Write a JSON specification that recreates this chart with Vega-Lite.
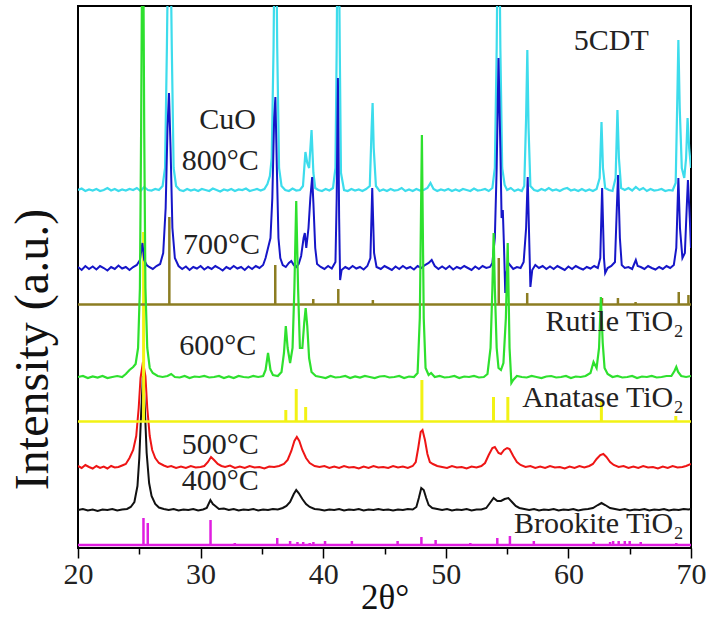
{
"$schema": "https://vega.github.io/schema/vega-lite/v6.json",
"width": 613, "height": 542,
"autosize": {"type": "none"},
"padding": {"left": 78, "top": 6, "right": 19, "bottom": 70},
"config": {"view": {"stroke": "#000", "strokeWidth": 2}},
"datasets": {
"bases": [{"p":"brookite","x":20,"y":3},{"p":"brookite","x":70,"y":3},{"p":"anatase","x":20,"y":126.5},{"p":"anatase","x":70,"y":126.5},{"p":"rutile","x":20,"y":243.5},{"p":"rutile","x":70,"y":243.5}],
"sticks": [
{"p":"brookite","x":25.34,"b":3,"y":30},{"p":"brookite","x":25.69,"b":3,"y":25},{"p":"brookite","x":30.81,"b":3,"y":28},{"p":"brookite","x":32.79,"b":3,"y":5},{"p":"brookite","x":36.25,"b":3,"y":10},{"p":"brookite","x":37.3,"b":3,"y":7},{"p":"brookite","x":37.9,"b":3,"y":6},{"p":"brookite","x":38.37,"b":3,"y":6},{"p":"brookite","x":38.9,"b":3,"y":5},{"p":"brookite","x":39.2,"b":3,"y":6},{"p":"brookite","x":40.15,"b":3,"y":7},{"p":"brookite","x":42.34,"b":3,"y":7},{"p":"brookite","x":46.07,"b":3,"y":7},{"p":"brookite","x":48.01,"b":3,"y":11},{"p":"brookite","x":49.17,"b":3,"y":8},{"p":"brookite","x":52.0,"b":3,"y":5},{"p":"brookite","x":54.2,"b":3,"y":10},{"p":"brookite","x":55.23,"b":3,"y":12},{"p":"brookite","x":57.18,"b":3,"y":7},{"p":"brookite","x":59.98,"b":3,"y":4},{"p":"brookite","x":62.06,"b":3,"y":6},{"p":"brookite","x":63.4,"b":3,"y":6},{"p":"brookite","x":63.65,"b":3,"y":7},{"p":"brookite","x":64.1,"b":3,"y":7},{"p":"brookite","x":64.6,"b":3,"y":7},{"p":"brookite","x":65.0,"b":3,"y":7},{"p":"brookite","x":65.9,"b":3,"y":6},{"p":"brookite","x":68.8,"b":3,"y":5},
{"p":"anatase","x":25.35,"b":126.5,"y":316},{"p":"anatase","x":36.95,"b":126.5,"y":138},{"p":"anatase","x":37.8,"b":126.5,"y":159},{"p":"anatase","x":38.57,"b":126.5,"y":141},{"p":"anatase","x":48.05,"b":126.5,"y":168},{"p":"anatase","x":53.89,"b":126.5,"y":151},{"p":"anatase","x":55.06,"b":126.5,"y":151},{"p":"anatase","x":62.69,"b":126.5,"y":148},{"p":"anatase","x":68.76,"b":126.5,"y":132},
{"p":"rutile","x":27.45,"b":243.5,"y":331},{"p":"rutile","x":36.09,"b":243.5,"y":283},{"p":"rutile","x":39.19,"b":243.5,"y":249},{"p":"rutile","x":41.23,"b":243.5,"y":259},{"p":"rutile","x":44.05,"b":243.5,"y":248},{"p":"rutile","x":54.32,"b":243.5,"y":290},{"p":"rutile","x":56.64,"b":243.5,"y":255},{"p":"rutile","x":62.74,"b":243.5,"y":250},{"p":"rutile","x":64.04,"b":243.5,"y":250},{"p":"rutile","x":65.48,"b":243.5,"y":246},{"p":"rutile","x":69.0,"b":243.5,"y":256},{"p":"rutile","x":69.79,"b":243.5,"y":253}
],
"c400": [{"x":20.0,"y":38},{"x":20.4,"y":39},{"x":20.8,"y":37.5},{"x":21.2,"y":38.5},{"x":21.6,"y":37},{"x":22.0,"y":38.5},{"x":22.4,"y":38},{"x":22.8,"y":39},{"x":23.2,"y":37.5},{"x":23.6,"y":38.5},{"x":24.0,"y":39},{"x":24.3,"y":41},{"x":24.6,"y":46},{"x":24.85,"y":62},{"x":25.0,"y":90},{"x":25.15,"y":135},{"x":25.3,"y":172},{"x":25.45,"y":140},{"x":25.6,"y":95},{"x":25.8,"y":65},{"x":26.0,"y":52},{"x":26.3,"y":44},{"x":26.6,"y":40.5},{"x":27.0,"y":39},{"x":27.4,"y":38},{"x":27.8,"y":39},{"x":28.2,"y":37.5},{"x":28.6,"y":38.5},{"x":29.0,"y":38},{"x":29.4,"y":39},{"x":29.8,"y":37.5},{"x":30.2,"y":38.5},{"x":30.5,"y":40},{"x":30.8,"y":48},{"x":31.0,"y":44},{"x":31.2,"y":42},{"x":31.5,"y":39},{"x":31.9,"y":39.5},{"x":32.3,"y":38},{"x":32.7,"y":39},{"x":33.1,"y":37.5},{"x":33.5,"y":38.5},{"x":33.9,"y":38},{"x":34.3,"y":39},{"x":34.7,"y":37.5},{"x":35.1,"y":38.5},{"x":35.5,"y":38},{"x":35.9,"y":39},{"x":36.3,"y":38.5},{"x":36.7,"y":40},{"x":37.0,"y":42},{"x":37.3,"y":46},{"x":37.6,"y":54},{"x":37.8,"y":58},{"x":38.0,"y":55},{"x":38.3,"y":49},{"x":38.6,"y":44},{"x":38.9,"y":41},{"x":39.3,"y":39},{"x":39.7,"y":38.5},{"x":40.1,"y":37.5},{"x":40.5,"y":38.5},{"x":40.9,"y":38},{"x":41.3,"y":39},{"x":41.7,"y":37.5},{"x":42.1,"y":38.5},{"x":42.5,"y":38},{"x":42.9,"y":39},{"x":43.3,"y":37.5},{"x":43.7,"y":38.5},{"x":44.1,"y":38},{"x":44.5,"y":39},{"x":44.9,"y":38},{"x":45.3,"y":38.5},{"x":45.7,"y":37.5},{"x":46.1,"y":38.5},{"x":46.5,"y":38},{"x":46.9,"y":39},{"x":47.3,"y":38.5},{"x":47.6,"y":41},{"x":47.8,"y":50},{"x":48.0,"y":60},{"x":48.2,"y":58},{"x":48.4,"y":50},{"x":48.6,"y":43},{"x":48.9,"y":40},{"x":49.3,"y":39},{"x":49.7,"y":38},{"x":50.1,"y":39},{"x":50.5,"y":37.5},{"x":50.9,"y":38.5},{"x":51.3,"y":38},{"x":51.7,"y":39},{"x":52.1,"y":37.5},{"x":52.5,"y":38.5},{"x":52.9,"y":38.5},{"x":53.3,"y":40},{"x":53.6,"y":45},{"x":53.9,"y":50},{"x":54.2,"y":47},{"x":54.5,"y":47},{"x":54.8,"y":49},{"x":55.1,"y":50},{"x":55.4,"y":46},{"x":55.7,"y":42},{"x":56.0,"y":40},{"x":56.4,"y":39},{"x":56.8,"y":38},{"x":57.2,"y":39},{"x":57.6,"y":37.5},{"x":58.0,"y":38.5},{"x":58.4,"y":38},{"x":58.8,"y":39},{"x":59.2,"y":37.5},{"x":59.6,"y":38.5},{"x":60.0,"y":38},{"x":60.4,"y":39},{"x":60.8,"y":37.5},{"x":61.2,"y":38.5},{"x":61.6,"y":39},{"x":62.0,"y":40},{"x":62.4,"y":43},{"x":62.7,"y":45},{"x":63.0,"y":43},{"x":63.4,"y":40},{"x":63.8,"y":39},{"x":64.2,"y":38},{"x":64.6,"y":39},{"x":65.0,"y":37.5},{"x":65.4,"y":38.5},{"x":65.8,"y":38},{"x":66.2,"y":39},{"x":66.6,"y":37.5},{"x":67.0,"y":38.5},{"x":67.4,"y":38},{"x":67.8,"y":39},{"x":68.2,"y":37.5},{"x":68.6,"y":38.5},{"x":69.0,"y":38},{"x":69.4,"y":39},{"x":69.8,"y":38.5},{"x":70.0,"y":39}],
"c500": [{"x":20.0,"y":82},{"x":20.3,"y":80},{"x":20.6,"y":83},{"x":20.9,"y":81},{"x":21.2,"y":79.5},{"x":21.5,"y":82},{"x":21.8,"y":80},{"x":22.1,"y":81.5},{"x":22.4,"y":79.5},{"x":22.7,"y":82},{"x":23.0,"y":80.5},{"x":23.3,"y":81},{"x":23.6,"y":82.5},{"x":23.9,"y":84},{"x":24.2,"y":90},{"x":24.5,"y":98},{"x":24.75,"y":112},{"x":24.95,"y":140},{"x":25.1,"y":170},{"x":25.3,"y":186},{"x":25.5,"y":172},{"x":25.65,"y":140},{"x":25.85,"y":112},{"x":26.05,"y":98},{"x":26.3,"y":90},{"x":26.6,"y":85},{"x":27.0,"y":82.5},{"x":27.3,"y":81},{"x":27.6,"y":82},{"x":28.0,"y":80},{"x":28.4,"y":81.5},{"x":28.8,"y":80},{"x":29.2,"y":82},{"x":29.6,"y":80.5},{"x":30.0,"y":81},{"x":30.3,"y":82},{"x":30.6,"y":86},{"x":30.85,"y":91},{"x":31.1,"y":88},{"x":31.4,"y":84},{"x":31.7,"y":82},{"x":32.0,"y":81},{"x":32.4,"y":82.5},{"x":32.8,"y":80},{"x":33.2,"y":81.5},{"x":33.6,"y":80},{"x":34.0,"y":82},{"x":34.4,"y":80.5},{"x":34.8,"y":81},{"x":35.2,"y":79.5},{"x":35.6,"y":81.5},{"x":36.0,"y":81},{"x":36.4,"y":82},{"x":36.8,"y":84},{"x":37.1,"y":88},{"x":37.4,"y":97},{"x":37.65,"y":107},{"x":37.85,"y":111},{"x":38.05,"y":107},{"x":38.3,"y":98},{"x":38.6,"y":90},{"x":38.9,"y":85},{"x":39.3,"y":82},{"x":39.7,"y":81},{"x":40.1,"y":82},{"x":40.5,"y":80},{"x":40.9,"y":81.5},{"x":41.3,"y":80},{"x":41.7,"y":82},{"x":42.1,"y":80.5},{"x":42.5,"y":81},{"x":42.9,"y":79.5},{"x":43.3,"y":81.5},{"x":43.7,"y":80},{"x":44.1,"y":82},{"x":44.5,"y":80.5},{"x":44.9,"y":81},{"x":45.3,"y":80},{"x":45.7,"y":82},{"x":46.1,"y":80.5},{"x":46.5,"y":81.5},{"x":46.9,"y":80},{"x":47.3,"y":82},{"x":47.55,"y":86},{"x":47.75,"y":100},{"x":47.95,"y":116},{"x":48.1,"y":118},{"x":48.3,"y":108},{"x":48.5,"y":94},{"x":48.7,"y":86},{"x":48.95,"y":84},{"x":49.3,"y":82},{"x":49.7,"y":81},{"x":50.1,"y":80},{"x":50.5,"y":82},{"x":50.9,"y":80.5},{"x":51.3,"y":81},{"x":51.7,"y":79.5},{"x":52.1,"y":81.5},{"x":52.5,"y":80.5},{"x":52.9,"y":82},{"x":53.2,"y":85},{"x":53.5,"y":93},{"x":53.8,"y":100},{"x":54.0,"y":101},{"x":54.3,"y":95},{"x":54.5,"y":94},{"x":54.75,"y":98},{"x":55.0,"y":100},{"x":55.2,"y":99},{"x":55.5,"y":92},{"x":55.8,"y":86},{"x":56.1,"y":83},{"x":56.5,"y":81},{"x":56.9,"y":82},{"x":57.3,"y":80},{"x":57.7,"y":81.5},{"x":58.1,"y":80},{"x":58.5,"y":82},{"x":58.9,"y":80.5},{"x":59.3,"y":81},{"x":59.7,"y":79.5},{"x":60.1,"y":81.5},{"x":60.5,"y":80},{"x":60.9,"y":82},{"x":61.3,"y":80.5},{"x":61.7,"y":82},{"x":62.0,"y":84},{"x":62.3,"y":89},{"x":62.6,"y":93},{"x":62.85,"y":94},{"x":63.1,"y":91},{"x":63.4,"y":86},{"x":63.7,"y":83},{"x":64.1,"y":81},{"x":64.5,"y":82},{"x":64.9,"y":80},{"x":65.3,"y":81.5},{"x":65.7,"y":80},{"x":66.1,"y":82},{"x":66.5,"y":80.5},{"x":66.9,"y":81},{"x":67.3,"y":79.5},{"x":67.7,"y":81.5},{"x":68.1,"y":80},{"x":68.5,"y":82},{"x":68.9,"y":80.5},{"x":69.3,"y":81},{"x":69.6,"y":82},{"x":70.0,"y":84}],
"c600": [{"x":20.0,"y":171},{"x":20.4,"y":172},{"x":20.8,"y":170},{"x":21.2,"y":171.5},{"x":21.6,"y":170.5},{"x":22.0,"y":172},{"x":22.4,"y":170},{"x":22.8,"y":171},{"x":23.2,"y":172},{"x":23.6,"y":171},{"x":23.9,"y":174},{"x":24.2,"y":178},{"x":24.5,"y":181},{"x":24.7,"y":184},{"x":24.9,"y":200},{"x":25.05,"y":260},{"x":25.15,"y":420},{"x":25.28,"y":700},{"x":25.4,"y":420},{"x":25.5,"y":260},{"x":25.65,"y":200},{"x":25.85,"y":180},{"x":26.1,"y":175},{"x":26.5,"y":172},{"x":26.9,"y":171},{"x":27.3,"y":172},{"x":27.6,"y":174},{"x":27.9,"y":171},{"x":28.3,"y":170.5},{"x":28.7,"y":172},{"x":29.1,"y":170},{"x":29.5,"y":171.5},{"x":29.9,"y":171},{"x":30.3,"y":172},{"x":30.7,"y":170.5},{"x":31.1,"y":171},{"x":31.5,"y":172},{"x":31.9,"y":170},{"x":32.3,"y":171.5},{"x":32.7,"y":170},{"x":33.1,"y":172},{"x":33.5,"y":171},{"x":33.9,"y":170.5},{"x":34.3,"y":172},{"x":34.7,"y":171},{"x":35.1,"y":172},{"x":35.3,"y":178},{"x":35.5,"y":195},{"x":35.7,"y":178},{"x":35.9,"y":173},{"x":36.3,"y":172},{"x":36.6,"y":176},{"x":36.8,"y":195},{"x":36.95,"y":222},{"x":37.1,"y":200},{"x":37.3,"y":185},{"x":37.5,"y":200},{"x":37.65,"y":260},{"x":37.8,"y":347},{"x":37.95,"y":260},{"x":38.1,"y":200},{"x":38.3,"y":200},{"x":38.45,"y":225},{"x":38.57,"y":240},{"x":38.7,"y":222},{"x":38.85,"y":190},{"x":39.05,"y":176},{"x":39.4,"y":172},{"x":39.8,"y":171},{"x":40.2,"y":170},{"x":40.6,"y":172},{"x":41.0,"y":170.5},{"x":41.4,"y":171},{"x":41.8,"y":172},{"x":42.2,"y":170},{"x":42.6,"y":171.5},{"x":43.0,"y":170.5},{"x":43.4,"y":172},{"x":43.8,"y":171},{"x":44.2,"y":170},{"x":44.6,"y":171.5},{"x":45.0,"y":172},{"x":45.4,"y":170.5},{"x":45.8,"y":171},{"x":46.2,"y":172},{"x":46.6,"y":170},{"x":47.0,"y":171.5},{"x":47.4,"y":171},{"x":47.7,"y":175},{"x":47.88,"y":230},{"x":48.05,"y":413},{"x":48.2,"y":230},{"x":48.35,"y":180},{"x":48.6,"y":173},{"x":48.8,"y":175},{"x":49.1,"y":171},{"x":49.5,"y":172},{"x":49.9,"y":170.5},{"x":50.3,"y":171},{"x":50.7,"y":172},{"x":51.1,"y":170},{"x":51.5,"y":171.5},{"x":51.9,"y":171},{"x":52.3,"y":172},{"x":52.7,"y":170.5},{"x":53.1,"y":171},{"x":53.4,"y":174},{"x":53.65,"y":200},{"x":53.8,"y":260},{"x":53.9,"y":315},{"x":54.0,"y":260},{"x":54.15,"y":200},{"x":54.3,"y":180},{"x":54.5,"y":178},{"x":54.7,"y":185},{"x":54.9,"y":230},{"x":55.05,"y":305},{"x":55.2,"y":200},{"x":55.35,"y":165},{"x":55.5,"y":168},{"x":55.8,"y":172},{"x":56.2,"y":171},{"x":56.6,"y":170.5},{"x":57.0,"y":172},{"x":57.4,"y":171},{"x":57.8,"y":170},{"x":58.2,"y":171.5},{"x":58.6,"y":172},{"x":59.0,"y":170.5},{"x":59.4,"y":171},{"x":59.8,"y":172},{"x":60.2,"y":170},{"x":60.6,"y":171.5},{"x":61.0,"y":171},{"x":61.4,"y":172},{"x":61.8,"y":175},{"x":62.05,"y":186},{"x":62.3,"y":180},{"x":62.5,"y":200},{"x":62.65,"y":251},{"x":62.8,"y":205},{"x":62.95,"y":180},{"x":63.2,"y":174},{"x":63.6,"y":171},{"x":64.0,"y":172},{"x":64.4,"y":170.5},{"x":64.8,"y":171},{"x":65.2,"y":172},{"x":65.6,"y":170},{"x":66.0,"y":171.5},{"x":66.4,"y":171},{"x":66.8,"y":172},{"x":67.2,"y":170.5},{"x":67.6,"y":171},{"x":68.0,"y":172},{"x":68.4,"y":172},{"x":68.65,"y":177},{"x":68.8,"y":181},{"x":68.95,"y":176},{"x":69.2,"y":172},{"x":69.6,"y":171},{"x":70.0,"y":172}],
"c700": [{"x":20.0,"y":281},{"x":20.3,"y":278},{"x":20.6,"y":282},{"x":20.9,"y":279},{"x":21.2,"y":281.5},{"x":21.5,"y":278.5},{"x":21.8,"y":282},{"x":22.1,"y":280},{"x":22.4,"y":277.5},{"x":22.7,"y":281},{"x":23.0,"y":279},{"x":23.3,"y":282.5},{"x":23.6,"y":279.5},{"x":23.9,"y":281},{"x":24.2,"y":278},{"x":24.5,"y":281},{"x":24.8,"y":283},{"x":25.05,"y":288},{"x":25.25,"y":305},{"x":25.4,"y":288},{"x":25.6,"y":283},{"x":25.8,"y":281},{"x":26.1,"y":279},{"x":26.4,"y":282},{"x":26.7,"y":284},{"x":26.95,"y":295},{"x":27.15,"y":340},{"x":27.3,"y":420},{"x":27.42,"y":455},{"x":27.55,"y":400},{"x":27.7,"y":320},{"x":27.9,"y":290},{"x":28.2,"y":282},{"x":28.5,"y":279},{"x":28.8,"y":281.5},{"x":29.1,"y":278},{"x":29.4,"y":281},{"x":29.7,"y":279.5},{"x":30.0,"y":282},{"x":30.3,"y":278.5},{"x":30.6,"y":281},{"x":30.9,"y":279},{"x":31.2,"y":282},{"x":31.5,"y":280},{"x":31.8,"y":277.5},{"x":32.1,"y":281},{"x":32.4,"y":279},{"x":32.7,"y":282},{"x":33.0,"y":279.5},{"x":33.3,"y":281},{"x":33.6,"y":278},{"x":33.9,"y":281.5},{"x":34.2,"y":279},{"x":34.5,"y":282},{"x":34.8,"y":280},{"x":35.1,"y":283},{"x":35.3,"y":290},{"x":35.5,"y":300},{"x":35.7,"y":310},{"x":35.85,"y":350},{"x":36.0,"y":430},{"x":36.1,"y":451},{"x":36.22,"y":380},{"x":36.35,"y":310},{"x":36.5,"y":290},{"x":36.7,"y":283},{"x":36.95,"y":281},{"x":37.2,"y":285},{"x":37.4,"y":287},{"x":37.6,"y":283},{"x":37.8,"y":281},{"x":38.0,"y":284},{"x":38.2,"y":292},{"x":38.4,"y":310},{"x":38.5,"y":315},{"x":38.62,"y":300},{"x":38.8,"y":320},{"x":38.95,"y":350},{"x":39.1,"y":371},{"x":39.2,"y":345},{"x":39.35,"y":300},{"x":39.5,"y":284},{"x":39.8,"y":281},{"x":40.1,"y":279},{"x":40.4,"y":282},{"x":40.7,"y":279.5},{"x":41.0,"y":286},{"x":41.1,"y":350},{"x":41.2,"y":470},{"x":41.3,"y":330},{"x":41.38,"y":268},{"x":41.5,"y":278},{"x":41.8,"y":281},{"x":42.1,"y":279},{"x":42.4,"y":282},{"x":42.7,"y":279.5},{"x":43.0,"y":281},{"x":43.3,"y":278.5},{"x":43.6,"y":282},{"x":43.85,"y":290},{"x":44.0,"y":360},{"x":44.15,"y":295},{"x":44.35,"y":281},{"x":44.7,"y":279},{"x":45.0,"y":282},{"x":45.3,"y":280},{"x":45.6,"y":278},{"x":45.9,"y":281.5},{"x":46.2,"y":279},{"x":46.5,"y":282},{"x":46.8,"y":279.5},{"x":47.1,"y":281},{"x":47.4,"y":278.5},{"x":47.7,"y":282},{"x":48.0,"y":280},{"x":48.3,"y":283},{"x":48.6,"y":285},{"x":48.85,"y":288},{"x":49.1,"y":282},{"x":49.4,"y":279},{"x":49.7,"y":281.5},{"x":50.0,"y":279},{"x":50.3,"y":282},{"x":50.6,"y":278.5},{"x":50.9,"y":281},{"x":51.2,"y":279.5},{"x":51.5,"y":282},{"x":51.8,"y":280},{"x":52.1,"y":278},{"x":52.4,"y":281.5},{"x":52.7,"y":279},{"x":53.0,"y":282},{"x":53.3,"y":280},{"x":53.6,"y":281},{"x":53.8,"y":285},{"x":54.0,"y":310},{"x":54.15,"y":380},{"x":54.3,"y":490},{"x":54.45,"y":400},{"x":54.55,"y":330},{"x":54.65,"y":338},{"x":54.75,"y":300},{"x":54.85,"y":255},{"x":54.95,"y":275},{"x":55.1,"y":285},{"x":55.3,"y":282},{"x":55.5,"y":279},{"x":55.8,"y":281},{"x":56.1,"y":280},{"x":56.35,"y":286},{"x":56.55,"y":320},{"x":56.68,"y":371},{"x":56.8,"y":310},{"x":56.9,"y":261},{"x":57.05,"y":278},{"x":57.3,"y":283},{"x":57.6,"y":280},{"x":57.9,"y":282},{"x":58.2,"y":279},{"x":58.5,"y":281.5},{"x":58.8,"y":279},{"x":59.1,"y":282},{"x":59.4,"y":280},{"x":59.7,"y":278},{"x":60.0,"y":281.5},{"x":60.3,"y":279},{"x":60.6,"y":282},{"x":60.9,"y":280},{"x":61.2,"y":278.5},{"x":61.5,"y":281},{"x":61.8,"y":279.5},{"x":62.1,"y":282},{"x":62.4,"y":280},{"x":62.6,"y":290},{"x":62.75,"y":360},{"x":62.9,"y":290},{"x":63.0,"y":275},{"x":63.2,"y":280},{"x":63.5,"y":282},{"x":63.8,"y":286},{"x":63.95,"y":340},{"x":64.05,"y":373},{"x":64.2,"y":310},{"x":64.35,"y":283},{"x":64.6,"y":280},{"x":64.9,"y":281},{"x":65.2,"y":279},{"x":65.4,"y":285},{"x":65.5,"y":288},{"x":65.65,"y":282},{"x":65.9,"y":281},{"x":66.2,"y":279},{"x":66.5,"y":282},{"x":66.8,"y":280},{"x":67.1,"y":278.5},{"x":67.4,"y":281},{"x":67.7,"y":279},{"x":68.0,"y":282},{"x":68.3,"y":280},{"x":68.6,"y":283},{"x":68.8,"y":300},{"x":68.97,"y":370},{"x":69.1,"y":320},{"x":69.3,"y":290},{"x":69.5,"y":295},{"x":69.65,"y":340},{"x":69.75,"y":368},{"x":69.9,"y":330},{"x":70.0,"y":300}],
"c800": [{"x":20.0,"y":358},{"x":20.3,"y":359.5},{"x":20.6,"y":357},{"x":20.9,"y":358.5},{"x":21.2,"y":357.5},{"x":21.5,"y":359},{"x":21.8,"y":357},{"x":22.1,"y":358},{"x":22.4,"y":360},{"x":22.7,"y":357.5},{"x":23.0,"y":359},{"x":23.3,"y":357},{"x":23.6,"y":358.5},{"x":23.9,"y":357.5},{"x":24.2,"y":359},{"x":24.5,"y":358},{"x":24.8,"y":360},{"x":25.1,"y":357},{"x":25.4,"y":361},{"x":25.7,"y":358},{"x":26.0,"y":357.5},{"x":26.3,"y":359},{"x":26.6,"y":358},{"x":26.9,"y":362},{"x":27.1,"y":380},{"x":27.25,"y":500},{"x":27.45,"y":700},{"x":27.65,"y":500},{"x":27.8,"y":380},{"x":28.0,"y":362},{"x":28.3,"y":358},{"x":28.6,"y":357},{"x":28.9,"y":359},{"x":29.2,"y":357.5},{"x":29.5,"y":358.5},{"x":29.8,"y":357},{"x":30.1,"y":359},{"x":30.4,"y":358},{"x":30.7,"y":357},{"x":31.0,"y":359.5},{"x":31.3,"y":358},{"x":31.6,"y":356.5},{"x":31.9,"y":358.5},{"x":32.2,"y":357.5},{"x":32.5,"y":359},{"x":32.8,"y":357},{"x":33.1,"y":358.5},{"x":33.4,"y":358},{"x":33.7,"y":359.5},{"x":34.0,"y":357},{"x":34.3,"y":358},{"x":34.6,"y":359},{"x":34.9,"y":357.5},{"x":35.2,"y":359},{"x":35.45,"y":364},{"x":35.65,"y":372},{"x":35.8,"y":390},{"x":35.95,"y":500},{"x":36.1,"y":700},{"x":36.25,"y":500},{"x":36.4,"y":380},{"x":36.6,"y":362},{"x":36.9,"y":358},{"x":37.2,"y":357},{"x":37.5,"y":359.5},{"x":37.8,"y":357.5},{"x":38.1,"y":358},{"x":38.35,"y":362},{"x":38.55,"y":396},{"x":38.7,"y":385},{"x":38.85,"y":380},{"x":39.05,"y":418},{"x":39.2,"y":375},{"x":39.35,"y":360},{"x":39.6,"y":358},{"x":39.9,"y":357},{"x":40.2,"y":359},{"x":40.5,"y":357.5},{"x":40.8,"y":360},{"x":41.0,"y":380},{"x":41.1,"y":500},{"x":41.22,"y":700},{"x":41.35,"y":500},{"x":41.45,"y":375},{"x":41.7,"y":358},{"x":42.0,"y":357},{"x":42.3,"y":359},{"x":42.6,"y":357.5},{"x":42.9,"y":358.5},{"x":43.2,"y":357},{"x":43.5,"y":359},{"x":43.8,"y":362},{"x":43.95,"y":420},{"x":44.03,"y":445},{"x":44.12,"y":400},{"x":44.3,"y":362},{"x":44.6,"y":357},{"x":44.9,"y":358.5},{"x":45.2,"y":357},{"x":45.5,"y":359},{"x":45.8,"y":357.5},{"x":46.1,"y":358},{"x":46.4,"y":360},{"x":46.7,"y":357},{"x":47.0,"y":358.5},{"x":47.3,"y":357},{"x":47.6,"y":359},{"x":47.9,"y":357.5},{"x":48.2,"y":358},{"x":48.5,"y":360},{"x":48.75,"y":365},{"x":49.0,"y":359},{"x":49.3,"y":357},{"x":49.6,"y":358.5},{"x":49.9,"y":357.5},{"x":50.2,"y":359},{"x":50.5,"y":357},{"x":50.8,"y":358.5},{"x":51.1,"y":357},{"x":51.4,"y":359},{"x":51.7,"y":358},{"x":52.0,"y":357},{"x":52.3,"y":359.5},{"x":52.6,"y":357.5},{"x":52.9,"y":358},{"x":53.2,"y":359},{"x":53.5,"y":357},{"x":53.8,"y":360},{"x":54.0,"y":380},{"x":54.15,"y":500},{"x":54.3,"y":700},{"x":54.45,"y":500},{"x":54.6,"y":380},{"x":54.8,"y":363},{"x":55.0,"y":358},{"x":55.3,"y":360},{"x":55.6,"y":357},{"x":55.9,"y":358.5},{"x":56.2,"y":357},{"x":56.4,"y":362},{"x":56.55,"y":430},{"x":56.65,"y":498},{"x":56.75,"y":420},{"x":56.9,"y":362},{"x":57.2,"y":358},{"x":57.5,"y":357},{"x":57.8,"y":359},{"x":58.1,"y":357.5},{"x":58.4,"y":360},{"x":58.7,"y":357.5},{"x":59.0,"y":358.5},{"x":59.3,"y":357},{"x":59.6,"y":359},{"x":59.9,"y":360},{"x":60.2,"y":357.5},{"x":60.5,"y":358.5},{"x":60.8,"y":357},{"x":61.1,"y":359},{"x":61.4,"y":357},{"x":61.7,"y":358.5},{"x":62.0,"y":357},{"x":62.3,"y":359},{"x":62.55,"y":370},{"x":62.7,"y":426},{"x":62.82,"y":380},{"x":63.0,"y":360},{"x":63.3,"y":358},{"x":63.6,"y":357},{"x":63.85,"y":370},{"x":64.0,"y":438},{"x":64.12,"y":390},{"x":64.3,"y":360},{"x":64.6,"y":358},{"x":64.9,"y":360},{"x":65.2,"y":357.5},{"x":65.5,"y":361},{"x":65.8,"y":358},{"x":66.1,"y":360},{"x":66.4,"y":357},{"x":66.7,"y":359},{"x":67.0,"y":357.5},{"x":67.3,"y":358},{"x":67.6,"y":359},{"x":67.9,"y":357},{"x":68.2,"y":358},{"x":68.5,"y":357.5},{"x":68.75,"y":365},{"x":68.9,"y":460},{"x":68.97,"y":508},{"x":69.08,"y":440},{"x":69.25,"y":380},{"x":69.45,"y":370},{"x":69.6,"y":390},{"x":69.72,"y":430},{"x":69.85,"y":400},{"x":70.0,"y":380}],
"leftLabels": [{"t":"CuO","x":32.2,"y":428},{"t":"800°C","x":31.6,"y":387},{"t":"700°C","x":31.7,"y":303},{"t":"600°C","x":31.4,"y":202},{"t":"500°C","x":31.6,"y":103},{"t":"400°C","x":31.6,"y":67},{"t":"5CDT","x":63.5,"y":507}],
"rightLabels": [{"t":"Rutile TiO₂","x":69.4,"y":226},{"t":"Anatase TiO₂","x":69.4,"y":150},{"t":"Brookite TiO₂","x":69.4,"y":24}]
},
"encoding": {
 "x": {"field":"x","type":"quantitative","scale":{"domain":[20,70]},
   "axis":{"values":[20,25,30,35,40,45,50,55,60,65,70],"labelExpr":"datum.value % 10 == 0 ? datum.label : ''","domain":false,"grid":false,"tickColor":"#000","tickWidth":1.5,
     "tickSize":{"condition":{"test":"datum.value % 10 == 0","value":10},"value":6},
     "labelFont":"Liberation Serif","labelFontSize":30,"labelColor":"#222","labelPadding":1,"labelFlush":false,
     "title":"2θ°","titleFont":"Liberation Serif","titleFontSize":35,"titleFontWeight":"normal","titleColor":"#111","titleY":49,"titleBaseline":"middle"}},
 "y": {"field":"y","type":"quantitative","scale":{"domain":[0,542]},
   "axis":{"title":"Intensity (a.u.)","labels":false,"ticks":false,"domain":false,"grid":false,"titleFont":"Liberation Serif","titleFontSize":48,"titleFontWeight":"normal","titleColor":"#111","titleAngle":-90,"titleX":-45,"titleY":343,"titleAlign":"center","titleBaseline":"middle"}}
},
"layer": [
{"data":{"name":"bases"},"transform":[{"filter":"datum.p == 'brookite'"}],"mark":{"type":"line","color":"#e01ee0","strokeWidth":2.5},"encoding":{}},
{"data":{"name":"sticks"},"transform":[{"filter":"datum.p == 'brookite'"}],"mark":{"type":"rule","color":"#e01ee0","strokeWidth":2.5,"clip":true},"encoding":{"y2":{"field":"b"}}},
{"data":{"name":"c500"},"mark":{"type":"line","color":"#ee1515","strokeWidth":2,"clip":true},"encoding":{}},
{"data":{"name":"c400"},"mark":{"type":"line","color":"#111111","strokeWidth":2,"clip":true},"encoding":{}},
{"data":{"name":"bases"},"transform":[{"filter":"datum.p == 'anatase'"}],"mark":{"type":"line","color":"#f2f214","strokeWidth":2.5},"encoding":{}},
{"data":{"name":"sticks"},"transform":[{"filter":"datum.p == 'anatase'"}],"mark":{"type":"rule","color":"#f2f214","strokeWidth":3,"clip":true},"encoding":{"y2":{"field":"b"}}},
{"data":{"name":"c800"},"mark":{"type":"line","color":"#3ddcec","strokeWidth":2.2,"clip":true},"encoding":{}},
{"data":{"name":"c700"},"mark":{"type":"line","color":"#1616c8","strokeWidth":2,"clip":true},"encoding":{}},
{"data":{"name":"bases"},"transform":[{"filter":"datum.p == 'rutile'"}],"mark":{"type":"line","color":"#8c7d22","strokeWidth":2.5},"encoding":{}},
{"data":{"name":"sticks"},"transform":[{"filter":"datum.p == 'rutile'"}],"mark":{"type":"rule","color":"#8c7d22","strokeWidth":2.5,"clip":true},"encoding":{"y2":{"field":"b"}}},
{"data":{"name":"c600"},"mark":{"type":"line","color":"#2ee02e","strokeWidth":2.2,"clip":true},"encoding":{}},
{"data":{"name":"leftLabels"},"mark":{"type":"text","font":"Liberation Serif","fontSize":30,"color":"#222","align":"center","baseline":"middle"},"encoding":{"text":{"field":"t"}}},
{"data":{"name":"rightLabels"},"mark":{"type":"text","font":"Liberation Serif","fontSize":30,"color":"#222","align":"right","baseline":"middle"},"encoding":{"text":{"field":"t"}}}
]
}
